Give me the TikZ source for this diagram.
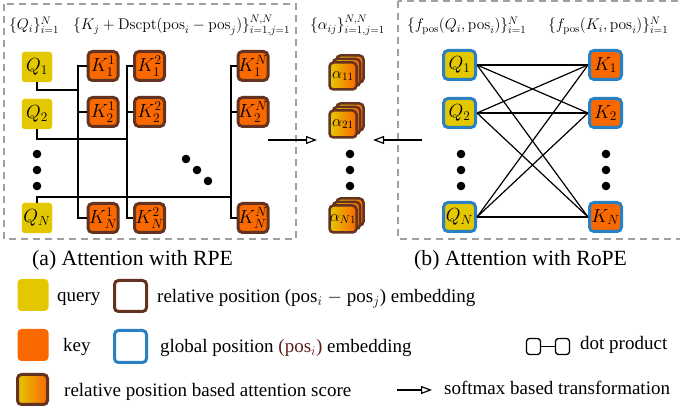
\RequirePackage{fix-cm}
\documentclass[tikz,border=0pt]{standalone}
\usepackage[no-math]{fontspec}
\setmainfont{Liberation Serif}
\usetikzlibrary{arrows.meta}

\definecolor{qyel}{HTML}{E3C800}
\definecolor{korg}{HTML}{FA6800}
\definecolor{kbrn}{HTML}{643220}
\definecolor{pblu}{HTML}{2A80C4}
\definecolor{dgray}{HTML}{A0A0A0}
\definecolor{posbrn}{HTML}{5A1E14}

\newcommand\nodefnt{\fontsize{19}{19}\selectfont}
\newcommand\alphafnt{\fontsize{16}{16}\selectfont}
\newcommand\labfnt{\fontsize{15.5}{16}\selectfont}
\newcommand\legfnt{\fontsize{19}{20}\selectfont}
\newcommand\titfnt{\fontsize{21.7}{22}\selectfont}

\begin{document}
\begin{tikzpicture}[x=1pt,y=-1pt,
  qa/.style={fill=qyel, draw=qyel, line width=0.4pt, rounded corners=3pt,
    minimum width=30pt, minimum height=30pt, inner sep=0pt, font=\nodefnt},
  ka/.style={fill=korg, draw=kbrn, line width=3pt, rounded corners=4.5pt,
    minimum width=30pt, minimum height=29pt, inner sep=0pt, font=\nodefnt},
  qb/.style={fill=qyel, draw=pblu, line width=3pt, rounded corners=4.5pt,
    minimum width=32pt, minimum height=29pt, inner sep=0pt, font=\nodefnt},
  kb/.style={qb, fill=korg},
  alay/.style={left color=qyel, right color=korg, draw=kbrn, line width=2.5pt,
    rounded corners=4pt, minimum width=27pt, minimum height=27pt, inner sep=0pt,
    font=\alphafnt},
  dotmark/.style={circle, fill=black, inner sep=0pt, minimum size=8.6pt},
  dbox/.style={draw=dgray, line width=2pt, dash pattern=on 7pt off 5pt},
  wire/.style={draw=black, line width=1.2pt},
  softarrow/.style={line width=1.2pt, -{Triangle[open, length=11pt, width=8pt, line width=1.2pt]}},
  toplab/.style={anchor=base west, inner sep=0pt, font=\labfnt},
  legtxt/.style={anchor=base west, inner sep=0pt, font=\legfnt},
  legbox/.style={rounded corners=4pt, inner sep=0pt},
]
\useasboundingbox (0,0) rectangle (680,411);

% dashed frames of the two panels
\draw[dbox] (4,4) rectangle (296,239);
\draw[dbox] (398,1) rectangle (690,239);

% set labels above the columns
\node[toplab] (lq) at (9,30) {$\{Q_i\}_{i=1}^N$};
\node[toplab] (lk) at (73,30) {$\{K_j+\mathrm{Dscpt}(\mathrm{pos}_i-\mathrm{pos}_j)\}_{i=1,j=1}^{N,N}$};
\node[toplab] (la) at (310,30) {$\{\alpha_{ij}\}_{i=1,j=1}^{N,N}$};
\node[toplab] (lfq) at (407,30) {$\{f_{\mathrm{pos}}(Q_i,\mathrm{pos}_i)\}_{i=1}^N$};
\node[toplab] (lfk) at (548,30) {$\{f_{\mathrm{pos}}(K_i,\mathrm{pos}_i)\}_{i=1}^N$};

% ---------- (a) relative position encoding ----------
\node[qa] (Q1) at (37,67) {$Q_1$};
\node[qa] (Q2) at (37,114) {$Q_2$};
\node[qa] (QN) at (37,218) {$Q_N$};
\foreach \y [count=\i] in {154,170,186} \node[dotmark] (qd\i) at (37,\y) {};

\node[ka] (K11) at (103,66) {$K^1_1$};
\node[ka] (K21) at (103,112) {$K^1_2$};
\node[ka] (KN1) at (103,218) {$K^1_N$};
\node[ka] (K12) at (149.5,66) {$K^2_1$};
\node[ka] (K22) at (149.5,112) {$K^2_2$};
\node[ka] (KN2) at (149.5,218) {$K^2_N$};
\node[ka] (K1N) at (253,66) {$K^N_1$};
\node[ka] (K2N) at (253,112) {$K^N_2$};
\node[ka] (KNN) at (253,218) {$K^N_N$};
\node[dotmark] (dd1) at (186,159) {};
\node[dotmark] (dd2) at (197,170) {};
\node[dotmark] (dd3) at (208,181) {};

% buses joining each query to its column of keys
\coordinate (j1) at (78,90);
\coordinate (j2) at (127,139);
\coordinate (jN) at (231,197);
\draw[wire] (Q1.south) |- (j1);
\draw[wire] (Q2.south) |- (j2);
\draw[wire] (QN.north) |- (jN);
\draw[wire] (K11.west) -- (K11.west -| j1) -- (KN1.west -| j1) -- (KN1.west);
\draw[wire] (K21.west) -- (K21.west -| j1);
\draw[wire] (K12.west) -- (K12.west -| j2) -- (KN2.west -| j2) -- (KN2.west);
\draw[wire] (K22.west) -- (K22.west -| j2);
\draw[wire] (K1N.west) -- (K1N.west -| jN) -- (KNN.west -| jN) -- (KNN.west);
\draw[wire] (K2N.west) -- (K2N.west -| jN);

% ---------- attention scores ----------
\foreach \n/\y/\t in {11/76/{\alpha_{11}}, 21/124/{\alpha_{21}}, N1/219/{\alpha_{N1}}}{
  \node[alay] (a\n c) at (350,\y-7) {};
  \node[alay] (a\n b) at (346.5,\y-3.5) {};
  \node[alay] (a\n) at (343,\y) {$\t$};
}
\foreach \y [count=\i] in {154,170,186} \node[dotmark] (ad\i) at (350,\y) {};

\coordinate (sa0) at (268,140);
\coordinate (sa1) at (317,140);
\coordinate (sb0) at (422,140);
\coordinate (sb1) at (373,140);
\draw[softarrow] (sa0) -- (sa1);
\draw[softarrow] (sb0) -- (sb1);

% ---------- (b) rotary position encoding ----------
\node[qb] (P1) at (459.5,65) {$Q_1$};
\node[qb] (P2) at (459.5,113) {$Q_2$};
\node[qb] (PN) at (459.5,217) {$Q_N$};
\node[kb] (R1) at (605.5,65) {$K_1$};
\node[kb] (R2) at (605.5,113) {$K_2$};
\node[kb] (RN) at (605.5,217) {$K_N$};
\foreach \y [count=\i] in {154,170,186}{
  \node[dotmark] (pd\i) at (461,\y) {};
  \node[dotmark] (rd\i) at (606,\y) {};
}
\foreach \q in {P1,P2,PN}
  \foreach \k in {R1,R2,RN}
    \draw[wire] (\q.east) -- (\k.west);

% panel titles
\node[anchor=base west, inner sep=0pt, font=\titfnt] (ta) at (32,266) {(a) Attention with RPE};
\node[anchor=base west, inner sep=0pt, font=\titfnt] (tb) at (414,266) {(b) Attention with RoPE};

% ---------- legend ----------
\node[legbox, fill=qyel, minimum width=31pt, minimum height=32pt] (gq) at (33,295) {};
\node[legtxt] (gqt) at (57,302) {query};
\node[legbox, draw=kbrn, line width=3pt, minimum width=32pt, minimum height=31pt] (gr) at (130.5,296) {};
\node[legtxt] (grt) at (157,303) {relative position (pos$_i$ $-$ pos$_j$) embedding};

\node[legbox, fill=korg, minimum width=31pt, minimum height=32pt] (gk) at (33,345) {};
\node[legtxt] (gkt) at (63,352) {key};
\node[legbox, draw=pblu, line width=3pt, minimum width=32pt, minimum height=32pt] (gg) at (130.5,346.5) {};
\node[legtxt] (ggt) at (160,353) {global position \textcolor{posbrn}{(pos$_i$)} embedding};

\node[legbox, draw=black, line width=1.3pt, rounded corners=3pt, minimum width=14pt, minimum height=16pt] (dp1) at (533.5,346.5) {};
\node[legbox, draw=black, line width=1.3pt, rounded corners=3pt, minimum width=14pt, minimum height=16pt] (dp2) at (562.5,346.5) {};
\draw[line width=1.3pt] (dp1) -- (dp2);
\node[legtxt] (dpt) at (580,350) {dot product};

\node[legbox, left color=qyel, right color=korg, draw=kbrn, line width=3pt, minimum width=30pt, minimum height=30pt] (gs) at (32.5,389.5) {};
\node[legtxt] (gst) at (64,397) {relative position based attention score};
\coordinate (ga0) at (397,390);
\coordinate (ga1) at (432,390);
\draw[softarrow] (ga0) -- (ga1);
\node[legtxt] (gat) at (444,395) {softmax based transformation};
\end{tikzpicture}
\end{document}
